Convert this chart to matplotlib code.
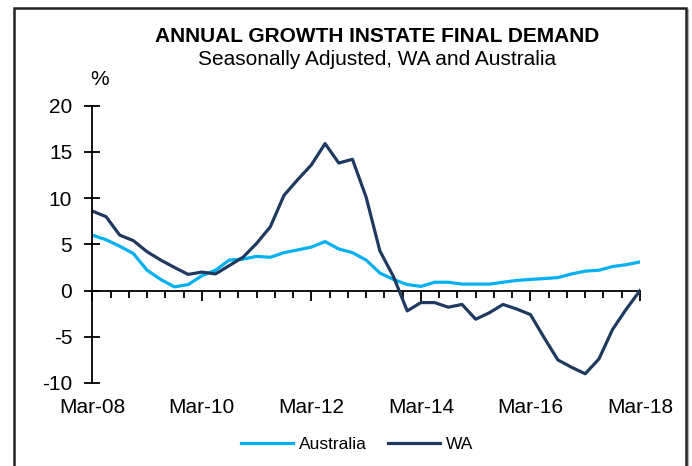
import matplotlib
matplotlib.use("Agg")
import matplotlib.pyplot as plt
from matplotlib.patches import Rectangle
import numpy as np

plt.rcParams['font.family'] = ['Liberation Sans', 'DejaVu Sans']
plt.rcParams['axes.unicode_minus'] = False

# quarterly, Mar-08 .. Mar-18
months = np.arange(0, 121, 3)
australia = [6.0, 5.5, 4.8, 4.0, 2.2, 1.2, 0.4, 0.65, 1.6, 2.2,
             3.3, 3.4, 3.7, 3.6, 4.1, 4.4, 4.7, 5.3, 4.5, 4.1,
             3.3, 1.9, 1.2, 0.65, 0.45, 0.9, 0.9, 0.7, 0.7, 0.7,
             0.9, 1.1, 1.2, 1.3, 1.4, 1.8, 2.1, 2.2, 2.6, 2.8, 3.1]
wa = [8.6, 8.0, 6.0, 5.4, 4.2, 3.3, 2.5, 1.75, 2.0, 1.8,
      2.7, 3.6, 5.1, 6.9, 10.3, 12.0, 13.6, 15.9, 13.8, 14.2,
      10.1, 4.3, 1.5, -2.2, -1.3, -1.3, -1.8, -1.5, -3.1, -2.4,
      -1.5, -2.0, -2.6, -5.1, -7.5, -8.3, -9.0, -7.4, -4.2, -2.0, 0.0]
label_months = [0, 24, 48, 72, 96, 120]
labels = ["Mar-08", "Mar-10", "Mar-12", "Mar-14", "Mar-16", "Mar-18"]
yticks = [-10, -5, 0, 5, 10, 15, 20]

W, H = 692, 466
fig = plt.figure(figsize=(W / 100, H / 100), dpi=100)
ax = fig.add_axes([92.3 / W, 83 / H, (640 - 92.3) / W, (383 - 105.7) / H])

ax.plot(months, australia, color="#00b0f0", lw=2.3, label="Australia")
ax.plot(months, wa, color="#1f3a60", lw=2.3, label="WA")

ax.set_xlim(0, 120)
ax.set_ylim(-10, 20)

for s in ["top", "right", "bottom"]:
    ax.spines[s].set_visible(False)
ax.spines["left"].set_linewidth(1.3)
ax.spines["left"].set_color("black")

ax.set_yticks(yticks)
ax.tick_params(axis="y", direction="inout", length=11, width=1.3, pad=9,
               labelsize=15)

# labels at the bottom, no ticks
ax.set_xticks(label_months)
ax.set_xticklabels(labels)
ax.tick_params(axis="x", length=0, pad=11, labelsize=15)

# axis line with ticks at y=0
sec = ax.secondary_xaxis(1 / 3)
sec.spines["bottom"].set_linewidth(1.3)
sec.set_xticks(label_months)
sec.set_xticks(np.arange(0, 121, 4), minor=True)
sec.tick_params(which="major", direction="out", length=7.5, width=1.3,
                labelbottom=False)
sec.tick_params(which="minor", direction="out", length=5, width=1.3)

fig.text(377 / W, 1 - 41.7 / H, "ANNUAL GROWTH INSTATE FINAL DEMAND",
         ha="center", va="baseline", fontsize=15, fontweight="bold")
fig.text(377 / W, 1 - 65 / H, "Seasonally Adjusted, WA and Australia",
         ha="center", va="baseline", fontsize=15)
fig.text(90 / W, 1 - 85 / H, "%", ha="left", va="baseline", fontsize=15)

fig.legend(loc="center", bbox_to_anchor=(357 / W, 1 - 444 / H), ncol=2,
           frameon=False, fontsize=12.5, handlelength=3.0,
           handletextpad=0.35, columnspacing=1.2)

# outer frame (display pixels, origin bottom-left), bottom edge off the image
fig.patches.append(Rectangle((688, -20), 0, H - 9 + 20, transform=None,
                             fill=False, edgecolor="#b0b0b0", lw=1.5))
fig.patches.append(Rectangle((14, -20), 672, H - 8 + 20, transform=None,
                             fill=False, edgecolor="#222222", lw=1.8))

fig.savefig("out.png", dpi=100)
